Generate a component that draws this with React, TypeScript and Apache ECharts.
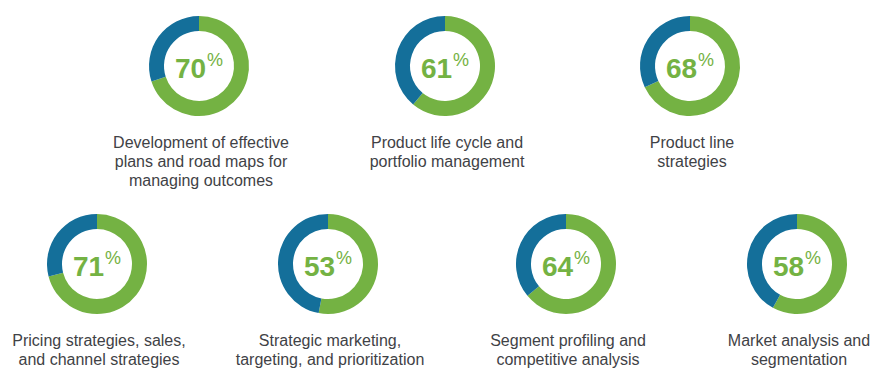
import React, { useEffect, useRef } from "react";
import * as echarts from "echarts";

const categories: string[][] = [
  ["Development of effective", "plans and road maps for", "managing outcomes"],
  ["Product life cycle and", "portfolio management"],
  ["Product line", "strategies"],
  ["Pricing strategies, sales,", "and channel strategies"],
  ["Strategic marketing,", "targeting, and prioritization"],
  ["Segment profiling and", "competitive analysis"],
  ["Market analysis and", "segmentation"],
];
const percentages: number[] = [70, 61, 68, 71, 53, 64, 58];

const GREEN = "#74b243";
const BLUE = "#146f9a";
const TEXT = "#3f4246";
const FONT = "'Liberation Sans', Arial, sans-serif";

// layout positions (px)
const centers: [number, number][] = [
  [199, 66],
  [445, 66],
  [690, 66],
  [97, 264],
  [328, 264],
  [566, 264],
  [797, 264],
];
const labelTops = [132.5, 132.5, 132.5, 330.5, 330.5, 330.5, 330.5];

export default function App() {
  const ref = useRef<HTMLDivElement>(null);
  useEffect(() => {
    if (!ref.current) return;
    const chart = echarts.init(ref.current, undefined, { renderer: "svg" });
    const series = percentages.map((v, i) => ({
      type: "pie",
      center: centers[i],
      radius: [35, 50],
      startAngle: 90,
      clockwise: true,
      silent: true,
      label: { show: false },
      labelLine: { show: false },
      emphasis: { disabled: true },
      data: [
        {
          value: v,
          name: "yes",
          itemStyle: { color: GREEN },
          label: {
            show: true,
            position: "center",
            formatter: `{a|${v}}{b|%}`,
            rich: {
              a: {
                fontSize: 28,
                fontWeight: "bold",
                color: GREEN,
                fontFamily: FONT,
                lineHeight: 30,
                padding: [5, 0, 0, 0],
              },
              b: {
                fontSize: 18,
                color: GREEN,
                fontFamily: FONT,
                verticalAlign: "top",
                lineHeight: 30,
                padding: [0, 0, 10, 1],
              },
            },
          },
        },
        {
          value: 100 - v,
          name: "no",
          itemStyle: { color: BLUE },
          label: { show: false },
        },
      ],
    }));
    const graphic = categories.map((lines, i) => ({
      type: "text",
      x: centers[i][0] + 2,
      y: labelTops[i],
      silent: true,
      style: {
        text: lines.join("\n"),
        fill: TEXT,
        fontSize: 16,
        fontFamily: FONT,
        align: "center",
        verticalAlign: "top",
        lineHeight: 19,
      },
    }));
    chart.setOption({
      animation: false,
      backgroundColor: "#ffffff",
      series,
      graphic,
    } as any);
    return () => chart.dispose();
  }, []);
  return (
    <div
      ref={ref}
      style={{ position: "fixed", left: 0, top: 0, width: 892, height: 381 }}
    />
  );
}
